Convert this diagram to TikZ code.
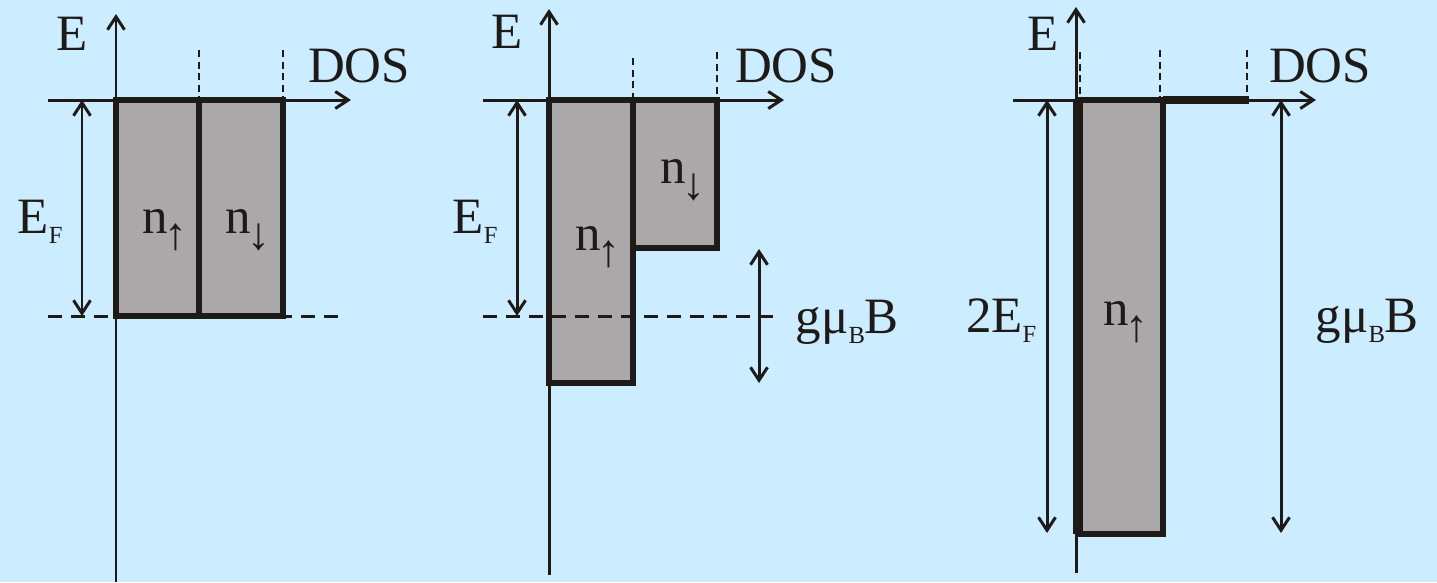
\documentclass[tikz,border=0pt]{standalone}
\usepackage{fontspec}
\setmainfont{Liberation Serif}
\usetikzlibrary{arrows.meta}

\definecolor{bgblue}{RGB}{204,236,255}
\definecolor{bandgray}{RGB}{170,168,169}
\definecolor{ink}{RGB}{30,26,24}

\newcommand{\lowidx}[1]{\raisebox{-0.2em}{\fontsize{7}{7}\selectfont #1}}
\newcommand{\spinidx}[1]{\kern-0.08em\raisebox{-0.33em}{\fontsize{13}{13}\selectfont #1}}

\begin{document}
\begin{tikzpicture}[x=0.1mm,y=-0.1mm,font=\fontsize{14.5}{17}\selectfont,
  axis/.style={ink,line width=0.85pt,-{Straight Barb[length=1.3mm,width=1.7mm]}},
  span/.style={ink,line width=0.85pt,{Straight Barb[length=1.3mm,width=1.7mm]}-{Straight Barb[length=1.3mm,width=1.7mm]}},
  band/.style={fill=bandgray,draw=ink,line width=1.5pt},
  guide/.style={ink,line width=0.55pt,dash pattern=on 0.7mm off 0.45mm},
  level/.style={ink,line width=0.85pt,dash pattern=on 1.4mm off 0.9mm},
  lbl/.style={inner sep=0pt,anchor=base,text=ink},
  spin/.style={lbl,anchor=base west}]
  \useasboundingbox (0,0) rectangle (1437,582);
  \fill[bgblue] (0,0) rectangle (1437,582);

  % B = 0
  \draw[band] (116,100) rectangle (199,316);
  \draw[band] (199,100) rectangle (283,316);
  \draw[guide] (199,50) -- (199,100);
  \draw[guide] (283,50) -- (283,100);
  \draw[level] (48,316) -- (346,316);
  \draw[axis] (116,582) -- (116,14);
  \draw[axis] (48,100) -- (351,100);
  \draw[span] (82,100) -- (82,316);
  \node[lbl] (e1) at (72,50) {E};
  \node[lbl] (dos1) at (359,82) {DOS};
  \node[lbl,anchor=base west] (ef1) at (17,233) {E\lowidx{F}};
  \node[spin] (up1) at (142,233) {n\spinidx{↑}};
  \node[spin] (dn1) at (225,233) {n\spinidx{↓}};

  % B > 0, partly polarised
  \draw[band] (549,100) rectangle (633,383);
  \draw[band] (633,100) rectangle (717,248);
  \draw[guide] (633,58) -- (633,100);
  \draw[guide] (717,52) -- (717,100);
  \draw[level] (483,316) -- (780,316);
  \draw[axis] (549,575) -- (549,9);
  \draw[axis] (483,100) -- (784,100);
  \draw[span] (517,100) -- (517,316);
  \draw[span] (759,249) -- (759,383);
  \node[lbl] (e2) at (507,48) {E};
  \node[lbl] (dos2) at (786,82) {DOS};
  \node[lbl,anchor=base west] (ef2) at (452,233) {E\lowidx{F}};
  \node[spin] (up2) at (575,250) {n\spinidx{↑}};
  \node[spin] (dn2) at (660,183) {n\spinidx{↓}};
  \node[lbl,anchor=base west] (zee2) at (795,333) {gμ\lowidx{B}B};

  % fully polarised
  \draw[band] (1079,100) rectangle (1163,534);
  \draw[ink,line width=2.6pt] (1078,100) -- (1078,534);
  \draw[ink,line width=2pt] (1163,100) -- (1249,100);
  \draw[guide] (1080,52) -- (1080,100);
  \draw[guide] (1160,50) -- (1160,100);
  \draw[guide] (1247,50) -- (1247,100);
  \draw[axis] (1076,573) -- (1076,7);
  \draw[axis] (1013,100) -- (1316,100);
  \draw[span] (1047,100) -- (1047,533);
  \draw[span] (1281,100) -- (1281,533);
  \node[lbl] (e3) at (1043,50) {E};
  \node[lbl] (dos3) at (1320,82) {DOS};
  \node[lbl,anchor=base east] (ef3) at (1037,332) {2E\lowidx{F}};
  \node[spin] (up3) at (1103,325) {n\spinidx{↑}};
  \node[lbl,anchor=base west] (zee3) at (1315,332) {gμ\lowidx{B}B};
\end{tikzpicture}
\end{document}
